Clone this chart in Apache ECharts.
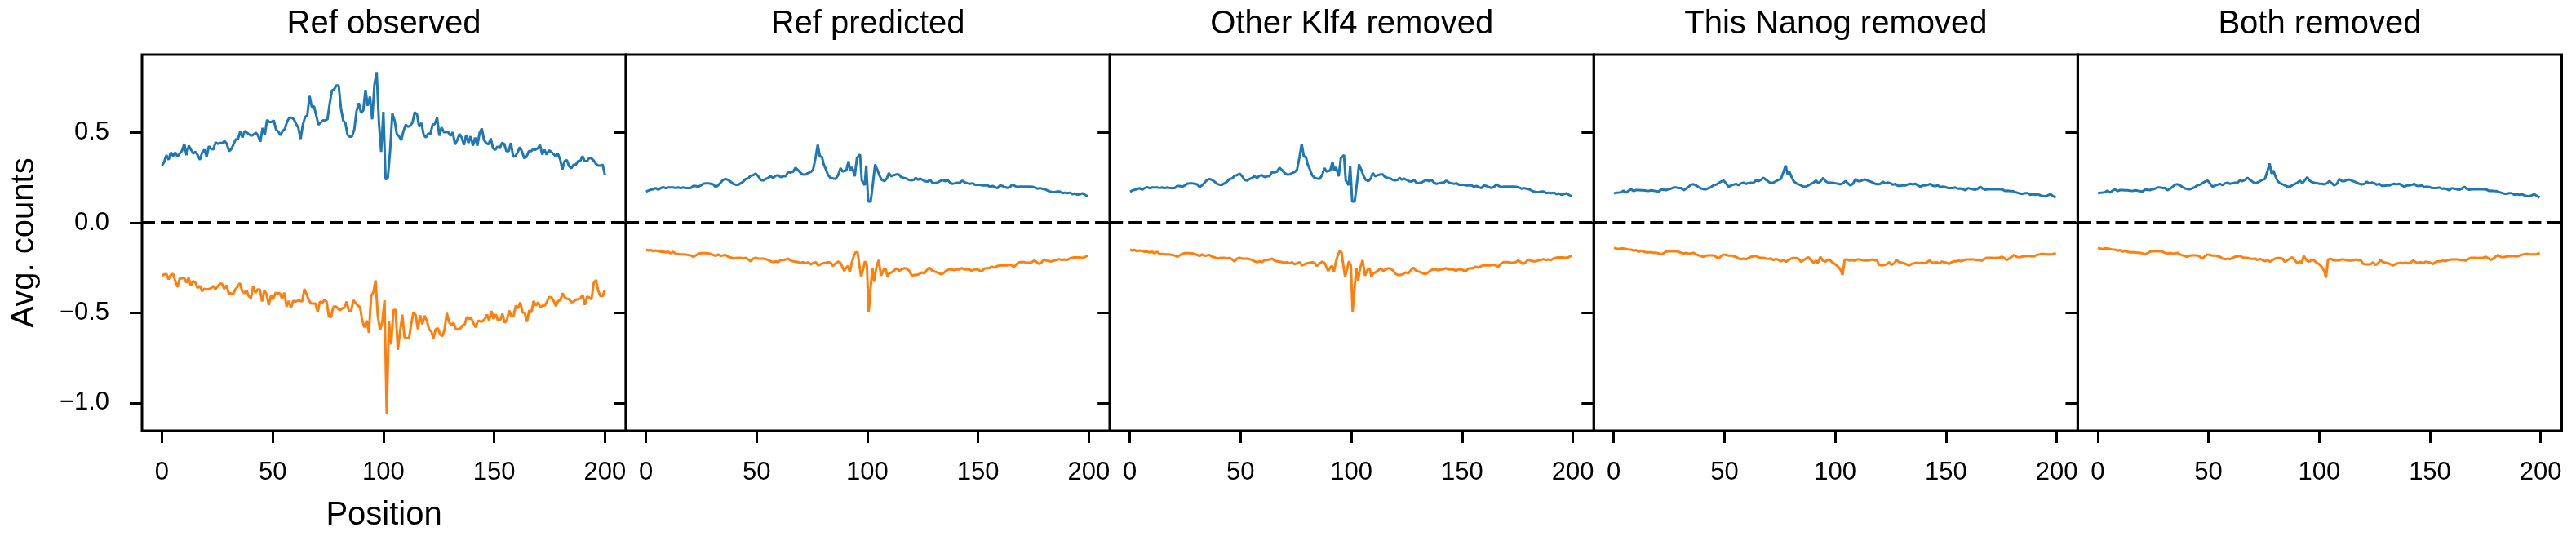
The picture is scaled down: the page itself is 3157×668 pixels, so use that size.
<!DOCTYPE html>
<html>
<head>
<meta charset="utf-8">
<script src="https://cdn.jsdelivr.net/npm/echarts@6/dist/echarts.min.js"></script>
<style>
  html, body { margin: 0; padding: 0; background: #fff; }
  #chart { width: 3157px; height: 668px; }
</style>
</head>
<body>
<div id="chart"></div>
<script>
const panelTitles = ['Ref observed', 'Ref predicted', 'Other Klf4 removed', 'This Nanog removed', 'Both removed']
const xTicks = [0, 50, 100, 150, 200]
const yTicks = [-1.0, -0.5, 0.0, 0.5]

// Ref observed: read at roughly every position, spread evenly over 0-200
const refObservedPlus = [
  0.317, 0.337, 0.375, 0.35, 0.39, 0.37, 0.39, 0.367, 0.385, 0.40, 0.438, 0.375, 0.428, 0.405, 0.385, 0.394,
  0.375, 0.35, 0.39, 0.405, 0.367, 0.425, 0.41, 0.408, 0.446, 0.438, 0.443, 0.443, 0.453, 0.438, 0.397, 0.408,
  0.435, 0.462, 0.465, 0.506, 0.473, 0.51, 0.50, 0.49, 0.483, 0.49, 0.50, 0.483, 0.45, 0.526, 0.488, 0.571,
  0.559, 0.559, 0.568, 0.518, 0.506, 0.486, 0.51, 0.521, 0.563, 0.583, 0.583, 0.574, 0.548, 0.526, 0.465, 0.544,
  0.586, 0.597, 0.704, 0.643, 0.646, 0.594, 0.544, 0.556, 0.568, 0.568, 0.574, 0.661, 0.734, 0.74, 0.762, 0.762,
  0.639, 0.568, 0.553, 0.488, 0.477, 0.48, 0.517, 0.62, 0.664, 0.609, 0.624, 0.737, 0.649, 0.70, 0.574, 0.767,
  0.836, 0.556, 0.393, 0.616, 0.239, 0.251, 0.397, 0.606, 0.568, 0.492, 0.48, 0.458, 0.51, 0.544, 0.533, 0.538,
  0.556, 0.613, 0.601, 0.533, 0.553, 0.488, 0.473, 0.495, 0.492, 0.544, 0.548, 0.583, 0.483, 0.529, 0.503, 0.503,
  0.503, 0.483, 0.503, 0.435, 0.458, 0.492, 0.473, 0.432, 0.488, 0.443, 0.48, 0.428, 0.473, 0.428, 0.498, 0.523,
  0.458, 0.443, 0.435, 0.468, 0.413, 0.405, 0.423, 0.413, 0.443, 0.438, 0.397, 0.397, 0.443, 0.367, 0.37, 0.39,
  0.42, 0.393, 0.357, 0.367, 0.397, 0.397, 0.408, 0.405, 0.413, 0.432, 0.378, 0.405, 0.378, 0.402, 0.393, 0.382,
  0.37, 0.382, 0.352, 0.296, 0.342, 0.348, 0.314, 0.302, 0.322, 0.322, 0.342, 0.342, 0.37, 0.342, 0.342, 0.36,
  0.357, 0.345, 0.327, 0.317, 0.317, 0.322, 0.266
]
const refObservedMinus = [
  -0.294, -0.287, -0.284, -0.314, -0.29, -0.284, -0.324, -0.357, -0.309, -0.309, -0.305, -0.332, -0.305, -0.35,
  -0.324, -0.332, -0.362, -0.35, -0.38, -0.367, -0.37, -0.368, -0.365, -0.351, -0.37, -0.354, -0.339, -0.339,
  -0.367, -0.347, -0.392, -0.392, -0.397, -0.37, -0.354, -0.335, -0.377, -0.392, -0.374, -0.407, -0.419, -0.354,
  -0.389, -0.37, -0.37, -0.437, -0.374, -0.397, -0.457, -0.403, -0.425, -0.389, -0.392, -0.392, -0.422, -0.388,
  -0.465, -0.434, -0.472, -0.434, -0.437, -0.433, -0.433, -0.437, -0.367, -0.397, -0.43, -0.448, -0.448, -0.448,
  -0.495, -0.437, -0.445, -0.43, -0.437, -0.52, -0.525, -0.468, -0.463, -0.475, -0.486, -0.475, -0.471, -0.437,
  -0.49, -0.49, -0.43, -0.445, -0.46, -0.468, -0.543, -0.581, -0.543, -0.611, -0.407, -0.385, -0.32, -0.52,
  -0.596, -0.55, -0.43, -1.063, -0.548, -0.676, -0.486, -0.483, -0.706, -0.603, -0.51, -0.636, -0.641, -0.641,
  -0.563, -0.498, -0.513, -0.591, -0.513, -0.563, -0.516, -0.543, -0.591, -0.603, -0.641, -0.591, -0.585, -0.621,
  -0.63, -0.591, -0.501, -0.55, -0.57, -0.555, -0.588, -0.593, -0.588, -0.57, -0.566, -0.523, -0.532, -0.532,
  -0.558, -0.581, -0.543, -0.548, -0.548, -0.535, -0.51, -0.543, -0.49, -0.535, -0.508, -0.543, -0.54, -0.505,
  -0.555, -0.54, -0.487, -0.52, -0.517, -0.46, -0.475, -0.442, -0.498, -0.501, -0.55, -0.486, -0.498, -0.434,
  -0.46, -0.442, -0.471, -0.46, -0.46, -0.437, -0.412, -0.415, -0.434, -0.463, -0.434, -0.43, -0.392, -0.415,
  -0.422, -0.425, -0.442, -0.437, -0.427, -0.425, -0.419, -0.4, -0.456, -0.41, -0.415, -0.425, -0.335, -0.317,
  -0.377, -0.407, -0.407, -0.374
]

// the other panels: [position, avg counts]
const refPredictedPlus = [
  [0.1, 0.173], [1.1, 0.178], [2.2, 0.183], [3.3, 0.186], [4.4, 0.192], [5.6, 0.183], [6.7, 0.192], [7.8, 0.198],
  [9.0, 0.192], [10.1, 0.196], [11.2, 0.196], [12.3, 0.196], [13.5, 0.193], [14.6, 0.196], [15.7, 0.192], [16.9, 0.196],
  [18.0, 0.193], [19.1, 0.192], [20.2, 0.192], [21.4, 0.204], [22.5, 0.204], [23.6, 0.2], [24.8, 0.207], [25.9, 0.216],
  [27.0, 0.219], [28.1, 0.219], [29.3, 0.216], [30.4, 0.213], [31.5, 0.198], [32.7, 0.208], [33.8, 0.223], [34.9, 0.238],
  [36.0, 0.243], [37.2, 0.237], [38.3, 0.228], [39.4, 0.216], [40.6, 0.211], [41.7, 0.211], [42.8, 0.219], [43.9, 0.228],
  [45.1, 0.243], [46.2, 0.246], [47.3, 0.261], [48.4, 0.264], [49.6, 0.273], [50.7, 0.258], [51.8, 0.238], [53.0, 0.234],
  [54.1, 0.243], [55.2, 0.249], [56.3, 0.258], [57.5, 0.249], [58.6, 0.261], [59.7, 0.264], [60.9, 0.253], [62.0, 0.258],
  [63.1, 0.258], [64.2, 0.281], [65.4, 0.279], [66.5, 0.284], [67.6, 0.306], [68.8, 0.291], [69.9, 0.276], [71.0, 0.267],
  [72.1, 0.268], [73.3, 0.276], [74.4, 0.281], [75.5, 0.294], [76.7, 0.367], [77.6, 0.433], [78.6, 0.367], [79.5, 0.367],
  [80.3, 0.324], [81.2, 0.299], [82.3, 0.264], [83.4, 0.249], [84.5, 0.246], [85.7, 0.243], [86.8, 0.264], [87.9, 0.303],
  [88.8, 0.284], [89.6, 0.288], [90.5, 0.29], [91.5, 0.341], [92.3, 0.288], [93.1, 0.309], [94.3, 0.258], [95.3, 0.359],
  [96.7, 0.379], [97.5, 0.234], [98.1, 0.228], [98.8, 0.208], [99.5, 0.318], [100.4, 0.118], [101.5, 0.118], [102.3, 0.193],
  [103.5, 0.324], [104.6, 0.291], [105.4, 0.264], [106.5, 0.238], [107.7, 0.231], [108.8, 0.246], [109.7, 0.276], [110.8, 0.258],
  [111.9, 0.264], [113.0, 0.268], [114.2, 0.268], [115.3, 0.253], [116.4, 0.249], [117.5, 0.246], [118.7, 0.238], [119.8, 0.235],
  [120.9, 0.238], [121.8, 0.249], [122.9, 0.238], [123.8, 0.246], [124.9, 0.238], [126.0, 0.231], [127.1, 0.228], [128.3, 0.238],
  [129.4, 0.222], [130.5, 0.22], [131.7, 0.223], [132.8, 0.231], [133.9, 0.237], [135.0, 0.231], [136.2, 0.237], [137.3, 0.223],
  [138.4, 0.216], [139.6, 0.219], [140.7, 0.222], [141.8, 0.223], [142.9, 0.234], [144.1, 0.223], [145.2, 0.219], [146.3, 0.216],
  [147.5, 0.219], [148.6, 0.211], [149.7, 0.211], [150.8, 0.21], [152.0, 0.207], [153.1, 0.207], [154.2, 0.208], [155.3, 0.2],
  [156.5, 0.204], [157.6, 0.198], [158.7, 0.192], [159.9, 0.207], [161.0, 0.204], [162.1, 0.198], [163.2, 0.193], [164.4, 0.198],
  [165.5, 0.213], [166.6, 0.204], [167.8, 0.198], [168.9, 0.2], [170.0, 0.2], [171.1, 0.2], [172.3, 0.2], [173.4, 0.2],
  [174.5, 0.199], [175.7, 0.196], [176.8, 0.189], [177.9, 0.192], [179.0, 0.189], [180.2, 0.186], [181.3, 0.179], [182.4, 0.173],
  [183.6, 0.17], [184.7, 0.17], [185.8, 0.173], [186.9, 0.173], [188.1, 0.164], [189.2, 0.167], [190.3, 0.164], [191.5, 0.167],
  [192.6, 0.158], [193.7, 0.163], [194.8, 0.155], [196.0, 0.158], [197.1, 0.164], [198.2, 0.155], [199.6, 0.146]
]
const refPredictedMinus = [
  [0.1, -0.149], [1.1, -0.154], [2.2, -0.151], [3.3, -0.158], [4.4, -0.154], [5.6, -0.157], [6.7, -0.161], [7.8, -0.161],
  [9.0, -0.164], [10.1, -0.161], [11.2, -0.17], [12.3, -0.161], [13.5, -0.173], [14.6, -0.173], [15.7, -0.176], [16.9, -0.176],
  [18.0, -0.176], [19.1, -0.179], [20.2, -0.181], [21.4, -0.189], [22.5, -0.181], [23.6, -0.173], [24.8, -0.169], [25.9, -0.169],
  [27.0, -0.169], [28.1, -0.17], [29.3, -0.173], [30.4, -0.179], [31.5, -0.184], [32.7, -0.176], [33.8, -0.184], [34.9, -0.181],
  [36.0, -0.179], [37.2, -0.189], [38.3, -0.192], [39.4, -0.199], [40.6, -0.196], [41.7, -0.195], [42.8, -0.195], [43.9, -0.199],
  [45.1, -0.195], [46.2, -0.204], [47.3, -0.214], [48.4, -0.199], [49.6, -0.195], [50.7, -0.199], [51.8, -0.199], [53.0, -0.199],
  [54.1, -0.202], [55.2, -0.207], [56.3, -0.214], [57.5, -0.219], [58.6, -0.214], [59.7, -0.219], [60.9, -0.207], [62.0, -0.207],
  [63.1, -0.204], [64.2, -0.199], [65.4, -0.21], [66.5, -0.214], [67.6, -0.216], [68.8, -0.219], [69.9, -0.222], [71.0, -0.219],
  [72.1, -0.225], [73.3, -0.219], [74.4, -0.231], [75.5, -0.225], [76.7, -0.219], [77.8, -0.237], [78.9, -0.231], [80.0, -0.225],
  [81.2, -0.222], [82.3, -0.219], [83.4, -0.222], [84.5, -0.24], [85.7, -0.225], [86.8, -0.216], [87.9, -0.222], [88.8, -0.249],
  [89.6, -0.267], [90.5, -0.249], [91.3, -0.24], [92.1, -0.275], [93.0, -0.219], [93.9, -0.184], [94.7, -0.164], [95.6, -0.164],
  [96.4, -0.237], [97.2, -0.3], [98.1, -0.259], [98.9, -0.214], [99.8, -0.237], [100.6, -0.496], [101.5, -0.357], [102.3, -0.252],
  [103.1, -0.327], [104.0, -0.252], [105.1, -0.207], [106.2, -0.294], [107.4, -0.259], [108.2, -0.252], [109.1, -0.3], [109.9, -0.282],
  [111.0, -0.275], [112.2, -0.264], [113.3, -0.252], [114.4, -0.267], [115.6, -0.259], [116.7, -0.252], [117.8, -0.255], [118.9, -0.267],
  [120.1, -0.294], [121.2, -0.29], [122.3, -0.29], [123.5, -0.285], [124.6, -0.275], [125.7, -0.282], [126.8, -0.264], [128.0, -0.249],
  [129.1, -0.264], [130.2, -0.27], [131.4, -0.275], [132.5, -0.282], [133.6, -0.285], [134.8, -0.275], [135.9, -0.264], [137.0, -0.259],
  [138.1, -0.259], [139.3, -0.264], [140.4, -0.259], [141.5, -0.259], [142.7, -0.252], [143.8, -0.259], [144.9, -0.259], [146.0, -0.259],
  [147.2, -0.267], [148.3, -0.259], [149.4, -0.259], [150.6, -0.264], [151.7, -0.27], [152.8, -0.255], [153.9, -0.252], [155.1, -0.252],
  [156.2, -0.244], [157.3, -0.249], [158.5, -0.241], [159.6, -0.237], [160.7, -0.237], [161.8, -0.237], [163.0, -0.237], [164.1, -0.234],
  [165.2, -0.237], [166.4, -0.244], [167.5, -0.229], [168.6, -0.219], [169.7, -0.219], [170.9, -0.219], [172.0, -0.222], [173.1, -0.222],
  [174.3, -0.219], [175.4, -0.21], [176.5, -0.219], [177.6, -0.229], [178.8, -0.219], [179.9, -0.204], [181.0, -0.21], [182.2, -0.214],
  [183.3, -0.214], [184.4, -0.21], [185.5, -0.207], [186.7, -0.202], [187.8, -0.207], [188.9, -0.204], [190.1, -0.207], [191.2, -0.199],
  [192.3, -0.195], [193.4, -0.192], [194.6, -0.192], [195.7, -0.192], [196.8, -0.195], [198.0, -0.192], [199.6, -0.181]
]
const otherKlf4Plus = [
  [0.1, 0.172], [1.1, 0.178], [2.2, 0.183], [3.3, 0.186], [4.4, 0.192], [5.6, 0.183], [6.7, 0.192], [7.8, 0.198],
  [9.0, 0.192], [10.1, 0.196], [11.2, 0.196], [12.3, 0.196], [13.5, 0.193], [14.6, 0.196], [15.7, 0.192], [16.9, 0.196],
  [18.0, 0.193], [19.1, 0.192], [20.2, 0.192], [21.4, 0.204], [22.5, 0.204], [23.6, 0.2], [24.8, 0.207], [25.9, 0.216],
  [27.0, 0.219], [28.1, 0.219], [29.3, 0.216], [30.4, 0.213], [31.5, 0.198], [32.7, 0.208], [33.8, 0.223], [34.9, 0.238],
  [36.0, 0.243], [37.2, 0.237], [38.3, 0.228], [39.4, 0.216], [40.6, 0.211], [41.7, 0.211], [42.8, 0.219], [43.9, 0.228],
  [45.1, 0.243], [46.2, 0.246], [47.3, 0.261], [48.4, 0.264], [49.6, 0.273], [50.7, 0.258], [51.8, 0.238], [53.0, 0.234],
  [54.1, 0.243], [55.2, 0.249], [56.3, 0.258], [57.5, 0.249], [58.6, 0.261], [59.7, 0.264], [60.9, 0.253], [62.0, 0.258],
  [63.1, 0.258], [64.2, 0.281], [65.4, 0.279], [66.5, 0.284], [67.6, 0.306], [68.8, 0.291], [69.9, 0.276], [71.0, 0.267],
  [72.1, 0.268], [73.3, 0.276], [74.4, 0.281], [75.5, 0.294], [76.7, 0.37], [77.6, 0.438], [78.6, 0.367], [79.5, 0.367],
  [80.3, 0.324], [81.2, 0.299], [82.3, 0.264], [83.4, 0.249], [84.5, 0.246], [85.7, 0.243], [86.8, 0.264], [87.9, 0.303],
  [88.8, 0.284], [89.6, 0.288], [90.5, 0.29], [91.5, 0.338], [92.3, 0.288], [93.1, 0.309], [94.3, 0.258], [95.3, 0.359],
  [96.7, 0.376], [97.5, 0.234], [98.1, 0.228], [98.8, 0.208], [99.5, 0.316], [100.4, 0.118], [101.5, 0.118], [102.3, 0.193],
  [103.5, 0.324], [104.6, 0.291], [105.4, 0.264], [106.5, 0.238], [107.7, 0.231], [108.8, 0.246], [109.7, 0.276], [110.8, 0.258],
  [111.9, 0.264], [113.0, 0.268], [114.2, 0.268], [115.3, 0.253], [116.4, 0.249], [117.5, 0.246], [118.7, 0.238], [119.8, 0.235],
  [120.9, 0.238], [121.8, 0.249], [122.9, 0.238], [123.8, 0.246], [124.9, 0.238], [126.0, 0.231], [127.1, 0.228], [128.3, 0.238],
  [129.4, 0.222], [130.5, 0.22], [131.7, 0.223], [132.8, 0.231], [133.9, 0.237], [135.0, 0.231], [136.2, 0.237], [137.3, 0.223],
  [138.4, 0.216], [139.6, 0.219], [140.7, 0.222], [141.8, 0.223], [142.9, 0.234], [144.1, 0.223], [145.2, 0.219], [146.3, 0.216],
  [147.5, 0.219], [148.6, 0.211], [149.7, 0.211], [150.8, 0.21], [152.0, 0.207], [153.1, 0.207], [154.2, 0.208], [155.3, 0.2],
  [156.5, 0.204], [157.6, 0.198], [158.7, 0.192], [159.9, 0.207], [161.0, 0.204], [162.1, 0.198], [163.2, 0.193], [164.4, 0.198],
  [165.5, 0.213], [166.6, 0.204], [167.8, 0.198], [168.9, 0.2], [170.0, 0.2], [171.1, 0.2], [172.3, 0.2], [173.4, 0.2],
  [174.5, 0.199], [175.7, 0.196], [176.8, 0.189], [177.9, 0.192], [179.0, 0.189], [180.2, 0.186], [181.3, 0.179], [182.4, 0.173],
  [183.6, 0.17], [184.7, 0.17], [185.8, 0.173], [186.9, 0.173], [188.1, 0.164], [189.2, 0.167], [190.3, 0.164], [191.5, 0.167],
  [192.6, 0.158], [193.7, 0.163], [194.8, 0.155], [196.0, 0.158], [197.1, 0.164], [198.2, 0.155], [199.6, 0.146]
]
const otherKlf4Minus = [
  [0.1, -0.149], [1.1, -0.154], [2.2, -0.151], [3.3, -0.158], [4.4, -0.154], [5.6, -0.157], [6.7, -0.161], [7.8, -0.161],
  [9.0, -0.164], [10.1, -0.161], [11.2, -0.17], [12.3, -0.161], [13.5, -0.173], [14.6, -0.173], [15.7, -0.176], [16.9, -0.176],
  [18.0, -0.176], [19.1, -0.179], [20.2, -0.181], [21.4, -0.189], [22.5, -0.181], [23.6, -0.173], [24.8, -0.169], [25.9, -0.169],
  [27.0, -0.169], [28.1, -0.17], [29.3, -0.173], [30.4, -0.179], [31.5, -0.184], [32.7, -0.176], [33.8, -0.184], [34.9, -0.181],
  [36.0, -0.179], [37.2, -0.189], [38.3, -0.192], [39.4, -0.199], [40.6, -0.196], [41.7, -0.195], [42.8, -0.195], [43.9, -0.199],
  [45.1, -0.195], [46.2, -0.204], [47.3, -0.214], [48.4, -0.199], [49.6, -0.195], [50.7, -0.199], [51.8, -0.199], [53.0, -0.199],
  [54.1, -0.202], [55.2, -0.207], [56.3, -0.214], [57.5, -0.219], [58.6, -0.214], [59.7, -0.219], [60.9, -0.207], [62.0, -0.207],
  [63.1, -0.204], [64.2, -0.199], [65.4, -0.21], [66.5, -0.214], [67.6, -0.216], [68.8, -0.219], [69.9, -0.222], [71.0, -0.219],
  [72.1, -0.225], [73.3, -0.219], [74.4, -0.231], [75.5, -0.225], [76.7, -0.219], [77.8, -0.237], [78.9, -0.231], [80.0, -0.225],
  [81.2, -0.222], [82.3, -0.219], [83.4, -0.222], [84.5, -0.24], [85.7, -0.225], [86.8, -0.216], [87.9, -0.222], [88.8, -0.249],
  [89.6, -0.267], [90.5, -0.249], [91.3, -0.24], [92.1, -0.275], [93.0, -0.219], [93.9, -0.181], [94.7, -0.158], [95.6, -0.164],
  [96.4, -0.237], [97.2, -0.3], [98.1, -0.259], [98.9, -0.214], [99.8, -0.237], [100.6, -0.493], [101.5, -0.357], [102.3, -0.252],
  [103.1, -0.322], [104.0, -0.252], [105.1, -0.207], [106.2, -0.294], [107.4, -0.259], [108.2, -0.252], [109.1, -0.3], [109.9, -0.282],
  [111.0, -0.275], [112.2, -0.264], [113.3, -0.252], [114.4, -0.267], [115.6, -0.259], [116.7, -0.252], [117.8, -0.255], [118.9, -0.267],
  [120.1, -0.285], [121.2, -0.29], [122.3, -0.29], [123.5, -0.285], [124.6, -0.275], [125.7, -0.282], [126.8, -0.264], [128.0, -0.249],
  [129.1, -0.264], [130.2, -0.27], [131.4, -0.275], [132.5, -0.282], [133.6, -0.285], [134.8, -0.275], [135.9, -0.264], [137.0, -0.259],
  [138.1, -0.259], [139.3, -0.264], [140.4, -0.259], [141.5, -0.259], [142.7, -0.252], [143.8, -0.259], [144.9, -0.259], [146.0, -0.259],
  [147.2, -0.267], [148.3, -0.259], [149.4, -0.259], [150.6, -0.264], [151.7, -0.27], [152.8, -0.255], [153.9, -0.252], [155.1, -0.252],
  [156.2, -0.244], [157.3, -0.249], [158.5, -0.241], [159.6, -0.237], [160.7, -0.237], [161.8, -0.237], [163.0, -0.237], [164.1, -0.234],
  [165.2, -0.237], [166.4, -0.244], [167.5, -0.229], [168.6, -0.219], [169.7, -0.219], [170.9, -0.219], [172.0, -0.222], [173.1, -0.222],
  [174.3, -0.219], [175.4, -0.21], [176.5, -0.219], [177.6, -0.229], [178.8, -0.219], [179.9, -0.204], [181.0, -0.21], [182.2, -0.214],
  [183.3, -0.214], [184.4, -0.21], [185.5, -0.207], [186.7, -0.202], [187.8, -0.207], [188.9, -0.204], [190.1, -0.207], [191.2, -0.199],
  [192.3, -0.195], [193.4, -0.192], [194.6, -0.192], [195.7, -0.192], [196.8, -0.195], [198.0, -0.192], [199.6, -0.181]
]
const thisNanogPlus = [
  [0.1, 0.163], [1.1, 0.166], [2.2, 0.167], [3.3, 0.17], [4.4, 0.178], [5.6, 0.167], [6.7, 0.178], [7.8, 0.186],
  [9.0, 0.176], [10.1, 0.181], [11.2, 0.181], [12.3, 0.18], [13.5, 0.18], [14.6, 0.178], [15.7, 0.176], [16.9, 0.18],
  [18.0, 0.178], [19.1, 0.175], [20.2, 0.173], [21.4, 0.183], [22.5, 0.183], [23.6, 0.181], [24.8, 0.186], [25.9, 0.189],
  [27.0, 0.196], [28.1, 0.196], [29.3, 0.193], [30.4, 0.192], [31.5, 0.18], [32.7, 0.189], [33.8, 0.2], [34.9, 0.211],
  [36.0, 0.214], [37.2, 0.207], [38.3, 0.198], [39.4, 0.19], [40.6, 0.186], [41.7, 0.186], [42.8, 0.192], [43.9, 0.198],
  [45.1, 0.208], [46.2, 0.211], [47.3, 0.22], [48.4, 0.228], [49.6, 0.234], [50.7, 0.219], [51.8, 0.2], [53.0, 0.207],
  [54.1, 0.211], [55.2, 0.216], [56.3, 0.208], [57.5, 0.219], [58.6, 0.222], [59.7, 0.216], [60.9, 0.22], [62.0, 0.222],
  [63.1, 0.222], [64.2, 0.235], [65.4, 0.231], [66.5, 0.238], [67.6, 0.249], [68.8, 0.238], [69.9, 0.228], [71.0, 0.219],
  [72.1, 0.223], [73.3, 0.231], [74.4, 0.238], [75.5, 0.243], [76.7, 0.284], [77.6, 0.318], [78.5, 0.268], [79.3, 0.284],
  [80.3, 0.253], [81.2, 0.231], [82.3, 0.219], [83.4, 0.213], [84.5, 0.208], [85.7, 0.2], [86.8, 0.2], [87.9, 0.208],
  [89.1, 0.216], [90.2, 0.223], [91.3, 0.234], [92.4, 0.219], [93.6, 0.234], [94.6, 0.249], [95.6, 0.231], [96.7, 0.223],
  [97.8, 0.222], [98.9, 0.222], [100.1, 0.219], [101.2, 0.216], [102.3, 0.213], [103.5, 0.219], [104.6, 0.231], [105.7, 0.219],
  [106.8, 0.207], [108.0, 0.216], [109.1, 0.243], [110.2, 0.231], [111.4, 0.231], [112.5, 0.237], [113.6, 0.24], [114.7, 0.234],
  [115.9, 0.228], [117.0, 0.223], [118.1, 0.216], [119.3, 0.213], [120.4, 0.216], [121.5, 0.228], [122.6, 0.219], [123.8, 0.223],
  [124.9, 0.219], [126.0, 0.211], [127.1, 0.216], [128.3, 0.205], [129.4, 0.205], [130.5, 0.207], [131.7, 0.207], [132.8, 0.213],
  [133.9, 0.216], [135.0, 0.213], [136.2, 0.216], [137.3, 0.207], [138.4, 0.2], [139.6, 0.207], [140.7, 0.207], [141.8, 0.21],
  [142.9, 0.216], [144.1, 0.205], [145.2, 0.204], [146.3, 0.207], [147.5, 0.198], [148.6, 0.2], [149.7, 0.198], [150.8, 0.193],
  [152.0, 0.192], [153.1, 0.192], [154.2, 0.196], [155.3, 0.189], [156.5, 0.19], [157.6, 0.186], [158.7, 0.18], [159.9, 0.192],
  [161.0, 0.189], [162.1, 0.186], [163.2, 0.183], [164.4, 0.189], [165.5, 0.2], [166.6, 0.189], [167.8, 0.183], [168.9, 0.186],
  [170.0, 0.186], [171.1, 0.186], [172.3, 0.186], [173.4, 0.186], [174.5, 0.186], [175.7, 0.183], [176.8, 0.176], [177.9, 0.178],
  [179.0, 0.176], [180.2, 0.175], [181.3, 0.17], [182.4, 0.166], [183.6, 0.161], [184.7, 0.161], [185.8, 0.164], [186.9, 0.164],
  [188.1, 0.155], [189.2, 0.158], [190.3, 0.155], [191.5, 0.158], [192.6, 0.152], [193.7, 0.148], [194.8, 0.146], [196.0, 0.152],
  [197.1, 0.158], [198.2, 0.149], [199.6, 0.14]
]
const thisNanogMinus = [
  [0.1, -0.14], [1.1, -0.143], [2.2, -0.146], [3.3, -0.142], [4.4, -0.143], [5.6, -0.146], [6.7, -0.149], [7.8, -0.149],
  [9.0, -0.155], [10.1, -0.152], [11.2, -0.161], [12.3, -0.155], [13.5, -0.161], [14.6, -0.164], [15.7, -0.164], [16.9, -0.164],
  [18.0, -0.167], [19.1, -0.167], [20.2, -0.17], [21.4, -0.176], [22.5, -0.169], [23.6, -0.161], [24.8, -0.158], [25.9, -0.158],
  [27.0, -0.158], [28.1, -0.158], [29.3, -0.161], [30.4, -0.167], [31.5, -0.172], [32.7, -0.167], [33.8, -0.172], [34.9, -0.17],
  [36.0, -0.167], [37.2, -0.176], [38.3, -0.181], [39.4, -0.186], [40.6, -0.189], [41.7, -0.182], [42.8, -0.181], [43.9, -0.181],
  [45.1, -0.181], [46.2, -0.189], [47.3, -0.199], [48.4, -0.186], [49.6, -0.176], [50.7, -0.179], [51.8, -0.182], [53.0, -0.182],
  [54.1, -0.186], [55.2, -0.189], [56.3, -0.198], [57.5, -0.202], [58.6, -0.199], [59.7, -0.202], [60.9, -0.195], [62.0, -0.189],
  [63.1, -0.187], [64.2, -0.184], [65.4, -0.192], [66.5, -0.195], [67.6, -0.195], [68.8, -0.199], [69.9, -0.201], [71.0, -0.198],
  [72.1, -0.207], [73.3, -0.201], [74.4, -0.207], [75.5, -0.214], [76.7, -0.207], [77.8, -0.216], [78.9, -0.207], [80.0, -0.199],
  [81.2, -0.196], [82.3, -0.196], [83.4, -0.199], [84.5, -0.217], [85.7, -0.207], [86.8, -0.199], [87.9, -0.192], [89.1, -0.207],
  [90.2, -0.222], [91.3, -0.21], [92.1, -0.225], [93.3, -0.189], [94.4, -0.21], [95.6, -0.216], [96.7, -0.204], [97.8, -0.21],
  [98.9, -0.222], [100.1, -0.231], [101.2, -0.243], [102.3, -0.259], [103.3, -0.29], [104.3, -0.204], [105.4, -0.204], [106.5, -0.21],
  [107.7, -0.207], [108.8, -0.21], [109.9, -0.204], [111.0, -0.204], [112.2, -0.207], [113.3, -0.21], [114.4, -0.21], [115.6, -0.207],
  [116.7, -0.204], [117.8, -0.207], [118.9, -0.21], [119.8, -0.234], [120.9, -0.237], [122.1, -0.234], [123.2, -0.231], [124.3, -0.219],
  [125.4, -0.234], [126.6, -0.225], [127.7, -0.207], [128.8, -0.219], [130.0, -0.222], [131.1, -0.225], [132.2, -0.231], [133.3, -0.237],
  [134.5, -0.229], [135.6, -0.225], [136.7, -0.222], [137.9, -0.225], [139.0, -0.222], [140.1, -0.225], [141.2, -0.222], [142.4, -0.21],
  [143.5, -0.219], [144.6, -0.222], [145.8, -0.219], [146.9, -0.225], [148.0, -0.216], [149.1, -0.219], [150.3, -0.222], [151.4, -0.229],
  [152.5, -0.219], [153.7, -0.214], [154.8, -0.214], [155.9, -0.21], [157.0, -0.214], [158.2, -0.207], [159.3, -0.204], [160.4, -0.204],
  [161.6, -0.204], [162.7, -0.204], [163.8, -0.207], [164.9, -0.207], [166.1, -0.21], [167.2, -0.202], [168.3, -0.195], [169.5, -0.195],
  [170.6, -0.195], [171.7, -0.196], [172.8, -0.195], [174.0, -0.195], [175.1, -0.189], [176.2, -0.195], [177.4, -0.207], [178.5, -0.199],
  [179.6, -0.189], [180.7, -0.179], [181.9, -0.189], [183.0, -0.192], [184.1, -0.189], [185.3, -0.186], [186.4, -0.186], [187.5, -0.184],
  [188.6, -0.187], [189.8, -0.186], [190.9, -0.179], [192.0, -0.176], [193.2, -0.173], [194.3, -0.173], [195.4, -0.176], [196.5, -0.176],
  [197.7, -0.176], [199.6, -0.169]
]
const bothRemovedPlus = [
  [0.1, 0.163], [1.1, 0.166], [2.2, 0.167], [3.3, 0.17], [4.4, 0.178], [5.6, 0.167], [6.7, 0.178], [7.8, 0.186],
  [9.0, 0.176], [10.1, 0.181], [11.2, 0.181], [12.3, 0.18], [13.5, 0.18], [14.6, 0.178], [15.7, 0.176], [16.9, 0.18],
  [18.0, 0.178], [19.1, 0.175], [20.2, 0.173], [21.4, 0.183], [22.5, 0.183], [23.6, 0.181], [24.8, 0.186], [25.9, 0.189],
  [27.0, 0.196], [28.1, 0.196], [29.3, 0.193], [30.4, 0.192], [31.5, 0.18], [32.7, 0.189], [33.8, 0.2], [34.9, 0.211],
  [36.0, 0.214], [37.2, 0.207], [38.3, 0.198], [39.4, 0.19], [40.6, 0.186], [41.7, 0.186], [42.8, 0.192], [43.9, 0.198],
  [45.1, 0.208], [46.2, 0.211], [47.3, 0.22], [48.4, 0.228], [49.6, 0.234], [50.7, 0.219], [51.8, 0.2], [53.0, 0.207],
  [54.1, 0.211], [55.2, 0.216], [56.3, 0.208], [57.5, 0.219], [58.6, 0.222], [59.7, 0.216], [60.9, 0.22], [62.0, 0.222],
  [63.1, 0.222], [64.2, 0.235], [65.4, 0.231], [66.5, 0.238], [67.6, 0.249], [68.8, 0.238], [69.9, 0.228], [71.0, 0.219],
  [72.1, 0.223], [73.3, 0.231], [74.4, 0.238], [75.5, 0.243], [76.7, 0.29], [77.6, 0.329], [78.5, 0.272], [79.3, 0.29],
  [80.3, 0.256], [81.2, 0.231], [82.3, 0.219], [83.4, 0.213], [84.5, 0.208], [85.7, 0.2], [86.8, 0.2], [87.9, 0.208],
  [89.1, 0.216], [90.2, 0.223], [91.3, 0.234], [92.4, 0.219], [93.6, 0.237], [94.6, 0.253], [95.6, 0.234], [96.7, 0.226],
  [97.8, 0.222], [98.9, 0.22], [100.1, 0.216], [101.2, 0.216], [102.3, 0.213], [103.5, 0.219], [104.6, 0.231], [105.7, 0.219],
  [106.8, 0.207], [108.0, 0.216], [109.1, 0.243], [110.2, 0.231], [111.4, 0.231], [112.5, 0.237], [113.6, 0.24], [114.7, 0.234],
  [115.9, 0.228], [117.0, 0.223], [118.1, 0.216], [119.3, 0.213], [120.4, 0.216], [121.5, 0.228], [122.6, 0.219], [123.8, 0.223],
  [124.9, 0.219], [126.0, 0.211], [127.1, 0.216], [128.3, 0.205], [129.4, 0.205], [130.5, 0.207], [131.7, 0.207], [132.8, 0.213],
  [133.9, 0.216], [135.0, 0.213], [136.2, 0.216], [137.3, 0.207], [138.4, 0.2], [139.6, 0.207], [140.7, 0.207], [141.8, 0.21],
  [142.9, 0.216], [144.1, 0.205], [145.2, 0.204], [146.3, 0.207], [147.5, 0.198], [148.6, 0.2], [149.7, 0.198], [150.8, 0.193],
  [152.0, 0.192], [153.1, 0.192], [154.2, 0.196], [155.3, 0.189], [156.5, 0.19], [157.6, 0.186], [158.7, 0.18], [159.9, 0.192],
  [161.0, 0.189], [162.1, 0.186], [163.2, 0.183], [164.4, 0.189], [165.5, 0.2], [166.6, 0.189], [167.8, 0.183], [168.9, 0.186],
  [170.0, 0.186], [171.1, 0.186], [172.3, 0.186], [173.4, 0.186], [174.5, 0.186], [175.7, 0.183], [176.8, 0.176], [177.9, 0.178],
  [179.0, 0.176], [180.2, 0.175], [181.3, 0.17], [182.4, 0.166], [183.6, 0.161], [184.7, 0.161], [185.8, 0.164], [186.9, 0.164],
  [188.1, 0.155], [189.2, 0.158], [190.3, 0.155], [191.5, 0.158], [192.6, 0.152], [193.7, 0.148], [194.8, 0.146], [196.0, 0.152],
  [197.1, 0.158], [198.2, 0.149], [199.6, 0.14]
]
const bothRemovedMinus = [
  [0.1, -0.14], [1.1, -0.143], [2.2, -0.146], [3.3, -0.142], [4.4, -0.143], [5.6, -0.146], [6.7, -0.149], [7.8, -0.149],
  [9.0, -0.155], [10.1, -0.152], [11.2, -0.161], [12.3, -0.155], [13.5, -0.161], [14.6, -0.164], [15.7, -0.164], [16.9, -0.164],
  [18.0, -0.167], [19.1, -0.167], [20.2, -0.17], [21.4, -0.176], [22.5, -0.169], [23.6, -0.161], [24.8, -0.158], [25.9, -0.158],
  [27.0, -0.158], [28.1, -0.158], [29.3, -0.161], [30.4, -0.167], [31.5, -0.172], [32.7, -0.167], [33.8, -0.172], [34.9, -0.17],
  [36.0, -0.167], [37.2, -0.176], [38.3, -0.181], [39.4, -0.186], [40.6, -0.189], [41.7, -0.182], [42.8, -0.181], [43.9, -0.181],
  [45.1, -0.181], [46.2, -0.189], [47.3, -0.199], [48.4, -0.186], [49.6, -0.176], [50.7, -0.179], [51.8, -0.182], [53.0, -0.182],
  [54.1, -0.186], [55.2, -0.189], [56.3, -0.198], [57.5, -0.202], [58.6, -0.199], [59.7, -0.202], [60.9, -0.195], [62.0, -0.189],
  [63.1, -0.187], [64.2, -0.184], [65.4, -0.192], [66.5, -0.195], [67.6, -0.195], [68.8, -0.199], [69.9, -0.201], [71.0, -0.198],
  [72.1, -0.207], [73.3, -0.201], [74.4, -0.207], [75.5, -0.214], [76.7, -0.207], [77.8, -0.216], [78.9, -0.207], [80.0, -0.199],
  [81.2, -0.196], [82.3, -0.196], [83.4, -0.199], [84.5, -0.217], [85.7, -0.207], [86.8, -0.199], [87.9, -0.192], [89.1, -0.21],
  [90.2, -0.225], [91.3, -0.213], [92.1, -0.228], [93.0, -0.184], [94.4, -0.21], [95.6, -0.216], [96.7, -0.204], [97.8, -0.21],
  [98.9, -0.222], [100.1, -0.231], [101.2, -0.246], [102.3, -0.268], [103.1, -0.305], [104.0, -0.204], [105.4, -0.201], [106.5, -0.21],
  [107.7, -0.207], [108.8, -0.21], [109.9, -0.204], [111.0, -0.204], [112.2, -0.207], [113.3, -0.21], [114.4, -0.21], [115.6, -0.207],
  [116.7, -0.204], [117.8, -0.207], [118.9, -0.21], [119.8, -0.228], [120.9, -0.231], [122.1, -0.231], [123.2, -0.231], [124.3, -0.219],
  [125.4, -0.234], [126.6, -0.225], [127.7, -0.207], [128.8, -0.219], [130.0, -0.222], [131.1, -0.225], [132.2, -0.231], [133.3, -0.237],
  [134.5, -0.229], [135.6, -0.225], [136.7, -0.222], [137.9, -0.225], [139.0, -0.222], [140.1, -0.225], [141.2, -0.222], [142.4, -0.21],
  [143.5, -0.219], [144.6, -0.222], [145.8, -0.219], [146.9, -0.225], [148.0, -0.216], [149.1, -0.219], [150.3, -0.222], [151.4, -0.229],
  [152.5, -0.219], [153.7, -0.214], [154.8, -0.214], [155.9, -0.21], [157.0, -0.214], [158.2, -0.207], [159.3, -0.204], [160.4, -0.204],
  [161.6, -0.204], [162.7, -0.204], [163.8, -0.207], [164.9, -0.207], [166.1, -0.21], [167.2, -0.202], [168.3, -0.195], [169.5, -0.195],
  [170.6, -0.195], [171.7, -0.196], [172.8, -0.195], [174.0, -0.195], [175.1, -0.189], [176.2, -0.195], [177.4, -0.207], [178.5, -0.199],
  [179.6, -0.189], [180.7, -0.179], [181.9, -0.189], [183.0, -0.192], [184.1, -0.189], [185.3, -0.186], [186.4, -0.186], [187.5, -0.184],
  [188.6, -0.187], [189.8, -0.186], [190.9, -0.179], [192.0, -0.176], [193.2, -0.173], [194.3, -0.173], [195.4, -0.176], [196.5, -0.176],
  [197.7, -0.176], [199.6, -0.169]
]

function spreadOverPositions(values) {
  return values.map((v, i) => [i * 200 / (values.length - 1), v])
}

const panels = [
  { plus: spreadOverPositions(refObservedPlus), minus: spreadOverPositions(refObservedMinus) },
  { plus: refPredictedPlus, minus: refPredictedMinus },
  { plus: otherKlf4Plus, minus: otherKlf4Minus },
  { plus: thisNanogPlus, minus: thisNanogMinus },
  { plus: bothRemovedPlus, minus: bothRemovedMinus }
]

const FONT = 'Liberation Sans, Arial, sans-serif'
const panelLeft = 174
const panelWidth = 593.1
const panelTop = 67
const panelHeight = 461

function formatTick(value) {
  const s = Math.abs(value).toFixed(1)
  return value < 0 ? '\u2212' + s : s
}

const chart = echarts.init(document.getElementById('chart'), null, { renderer: 'canvas' })

const grids = []
const xAxes = []
const yAxes = []
const series = []
const graphics = []

panels.forEach((panel, k) => {
  const left = panelLeft + k * panelWidth
  grids.push({
    left: left,
    top: panelTop,
    width: panelWidth,
    height: panelHeight,
    show: true,
    borderColor: '#000',
    borderWidth: 3,
    backgroundColor: 'transparent'
  })
  xAxes.push({
    type: 'value',
    gridIndex: k,
    min: -9,
    max: 209.5,
    axisLine: { show: false, onZero: false },
    splitLine: { show: false },
    axisTick: {
      show: true,
      length: 15,
      customValues: xTicks,
      lineStyle: { color: '#000', width: 3 }
    },
    axisLabel: {
      customValues: xTicks,
      fontSize: 31,
      fontFamily: FONT,
      color: '#000',
      margin: 36
    }
  })
  yAxes.push({
    type: 'value',
    gridIndex: k,
    min: -1.155,
    max: 0.933,
    axisLine: { show: false, onZero: false },
    splitLine: { show: false },
    axisTick: {
      show: true,
      length: 15,
      customValues: yTicks,
      lineStyle: { color: '#000', width: 3 }
    },
    axisLabel: {
      show: k === 0,
      customValues: yTicks,
      fontSize: 31,
      fontFamily: FONT,
      color: '#000',
      margin: 40,
      formatter: formatTick
    }
  })
  series.push({
    type: 'line',
    xAxisIndex: k,
    yAxisIndex: k,
    data: panel.plus,
    showSymbol: false,
    symbol: 'none',
    lineStyle: { color: '#1f77b4', width: 3 },
    itemStyle: { color: '#1f77b4' },
    markLine: {
      silent: true,
      symbol: 'none',
      label: { show: false },
      lineStyle: { color: '#000', width: 4, type: [16, 7] },
      data: [{ yAxis: 0 }]
    }
  })
  series.push({
    type: 'line',
    xAxisIndex: k,
    yAxisIndex: k,
    data: panel.minus,
    showSymbol: false,
    symbol: 'none',
    lineStyle: { color: '#ff7f0e', width: 3 },
    itemStyle: { color: '#ff7f0e' }
  })
  graphics.push({
    type: 'text',
    x: left + panelWidth / 2,
    y: 30,
    style: {
      text: panelTitles[k],
      font: '40px ' + FONT,
      fill: '#000',
      align: 'center',
      verticalAlign: 'middle'
    }
  })
})

graphics.push({
  type: 'text',
  x: panelLeft + panelWidth / 2,
  y: 632,
  style: { text: 'Position', font: '40px ' + FONT, fill: '#000', align: 'center', verticalAlign: 'middle' }
})
graphics.push({
  type: 'text',
  x: 30,
  y: panelTop + panelHeight / 2,
  rotation: Math.PI / 2,
  style: { text: 'Avg. counts', font: '40px ' + FONT, fill: '#000', align: 'center', verticalAlign: 'middle' }
})

chart.setOption({
  animation: false,
  backgroundColor: '#fff',
  grid: grids,
  xAxis: xAxes,
  yAxis: yAxes,
  series: series,
  graphic: graphics
})
</script>
</body>
</html>
